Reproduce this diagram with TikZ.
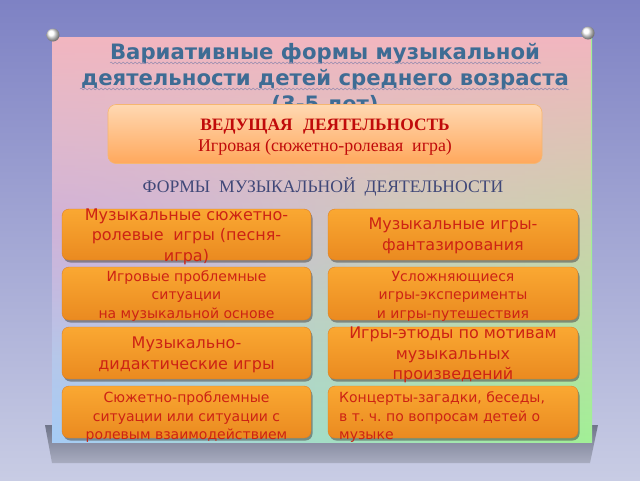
\documentclass[tikz,border=0pt]{standalone}
\usepackage{fontspec}
\setmainfont{Liberation Serif}
\newfontfamily\djv{DejaVu Sans}
\usetikzlibrary{shadows,fadings,decorations.pathmorphing}
\tikzfading[name=pinkfade, top color=transparent!0, middle color=transparent!65, bottom color=transparent!100]
\tikzfading[name=radfade, inner color=transparent!10, outer color=transparent!100]
\definecolor{bgtop}{RGB}{126,130,196}
\definecolor{bgmid}{RGB}{162,166,212}
\definecolor{bgbot}{RGB}{200,204,228}
\definecolor{paperL}{RGB}{166,204,246}
\definecolor{paperR}{RGB}{162,240,150}
\definecolor{paperpink}{RGB}{242,182,192}
\definecolor{paperlav}{RGB}{172,172,242}
\definecolor{shadowtop}{RGB}{112,117,138}
\definecolor{shadowbot}{RGB}{168,172,192}
\definecolor{titleblue}{RGB}{62,108,148}
\definecolor{wavy}{RGB}{150,140,175}
\definecolor{leadtop}{RGB}{255,216,178}
\definecolor{leadbot}{RGB}{255,168,92}
\definecolor{leadline}{RGB}{246,182,112}
\definecolor{leadred}{RGB}{192,10,10}
\definecolor{formblue}{RGB}{64,72,120}
\definecolor{otop}{RGB}{250,168,50}
\definecolor{obot}{RGB}{234,138,32}
\definecolor{oline}{RGB}{222,128,36}
\definecolor{ored}{RGB}{205,35,20}
\tikzset{
  obox/.style={rounded corners=7pt, top color=otop, bottom color=obot, draw=oline, line width=0.4pt,
    drop shadow={shadow xshift=1.5pt, shadow yshift=-2.5pt, opacity=0.55, fill=black!70},
    inner sep=0pt},
  bigtxt/.style={font=\djv\fontsize{16}{20.5}\selectfont, text=ored, align=center, inner sep=0pt},
  smalltxt/.style={font=\djv\fontsize{14}{18.5}\selectfont, text=ored, align=center, inner sep=0pt},
  pin/.style={ball color=white, shading=ball},
  wavyline/.style={draw=wavy, line width=0.5pt, decorate, decoration={snake, segment length=4pt, amplitude=0.9pt}}
}
\frenchspacing
\begin{document}
\begin{tikzpicture}[x=1pt,y=-1pt]
\useasboundingbox (0,0) rectangle (640,480);
% background
\shade[top color=bgtop, middle color=bgmid, bottom color=bgbot] (0,0) rectangle (640,480);
% shadow under the sheet
\shade[top color=shadowtop, bottom color=shadowbot] (45,425) -- (598,425) -- (590,463) -- (52,463) -- cycle;
% sheet
\shade[left color=paperL, right color=paperR] (52,37) rectangle (592,442);
\begin{scope}
\clip (52,37) rectangle (592,442);
\fill[paperlav, path fading=radfade] (60,215) ellipse (330 and 140);
\end{scope}
\fill[paperpink, path fading=pinkfade] (52,37) rectangle (592,442);
% pins
\shade[pin] (53,35) circle (6.5);
\shade[pin] (588,33) circle (6.5);
% title
\node[font=\djv\bfseries\fontsize{21.2}{26}\selectfont, text=titleblue, align=center, inner sep=0pt] (title) at (325,79)
  {Вариативные формы музыкальной\\деятельности детей среднего возраста\\(3-5 лет)};
\coordinate (w1a) at (110,63);
\coordinate (w1b) at (541,63);
\coordinate (w2a) at (80,89);
\coordinate (w2b) at (569,89);
\draw[wavyline] (w1a) -- (w1b);
\draw[wavyline] (w2a) -- (w2b);
% leading box
\node[rounded corners=8pt, top color=leadtop, bottom color=leadbot, draw=leadline, line width=0.6pt,
  minimum width=434pt, minimum height=59pt, inner sep=0pt] (lead) at (325,134) {};
\node[font=\bfseries\fontsize{17.4}{20}\selectfont, text=leadred, anchor=base, inner sep=0pt] (leadA) at (325,130)
  {ВЕДУЩАЯ\hspace{0.6em}ДЕЯТЕЛЬНОСТЬ};
\node[font=\fontsize{17.9}{20}\selectfont, text=leadred, anchor=base, inner sep=0pt] (leadB) at (325,151)
  {Игровая (сюжетно-ролевая\hspace{0.5em}игра)};
\node[font=\fontsize{17.6}{20}\selectfont, text=formblue, anchor=base, inner sep=0pt] (forms) at (323,192)
  {ФОРМЫ\hspace{0.5em}МУЗЫКАЛЬНОЙ\hspace{0.5em}ДЕЯТЕЛЬНОСТИ};
% boxes
\node[obox, minimum width=249pt, minimum height=51pt] (b1l) at (186.5,234.5) {};
\node[obox, minimum width=250pt, minimum height=51pt] (b1r) at (453,234.5) {};
\node[obox, minimum width=249pt, minimum height=53pt] (b2l) at (186.5,293.5) {};
\node[obox, minimum width=250pt, minimum height=53pt] (b2r) at (453,293.5) {};
\node[obox, minimum width=249pt, minimum height=52pt] (b3l) at (186.5,353) {};
\node[obox, minimum width=250pt, minimum height=52pt] (b3r) at (453,353) {};
\node[obox, minimum width=249pt, minimum height=52pt] (b4l) at (186.5,412) {};
\node[obox, minimum width=250pt, minimum height=52pt] (b4r) at (453,412) {};
% texts
\node[bigtxt] (t1l) at (186.5,236.5) {Музыкальные сюжетно-\\ролевые\hspace{0.6em}игры (песня-\\игра)};
\node[bigtxt] (t1r) at (453,236) {Музыкальные игры-\\фантазирования};
\node[smalltxt] (t2l) at (186.5,296) {Игровые проблемные\\ситуации\\на музыкальной основе};
\node[smalltxt] (t2r) at (453,296) {Усложняющиеся\\игры-эксперименты\\и игры-путешествия};
\node[bigtxt] (t3l) at (186.5,355) {Музыкально-\\дидактические игры};
\node[bigtxt] (t3r) at (453,355) {Игры-этюды по мотивам\\музыкальных\\произведений};
\node[smalltxt] (t4l) at (186.5,417.5) {Сюжетно-проблемные\\ситуации или ситуации с\\ролевым взаимодействием};
\node[smalltxt, align=left, anchor=west] (t4r) at (339,417.5) {Концерты-загадки, беседы,\\в т. ч. по вопросам детей о\\музыке};
\end{tikzpicture}
\end{document}
